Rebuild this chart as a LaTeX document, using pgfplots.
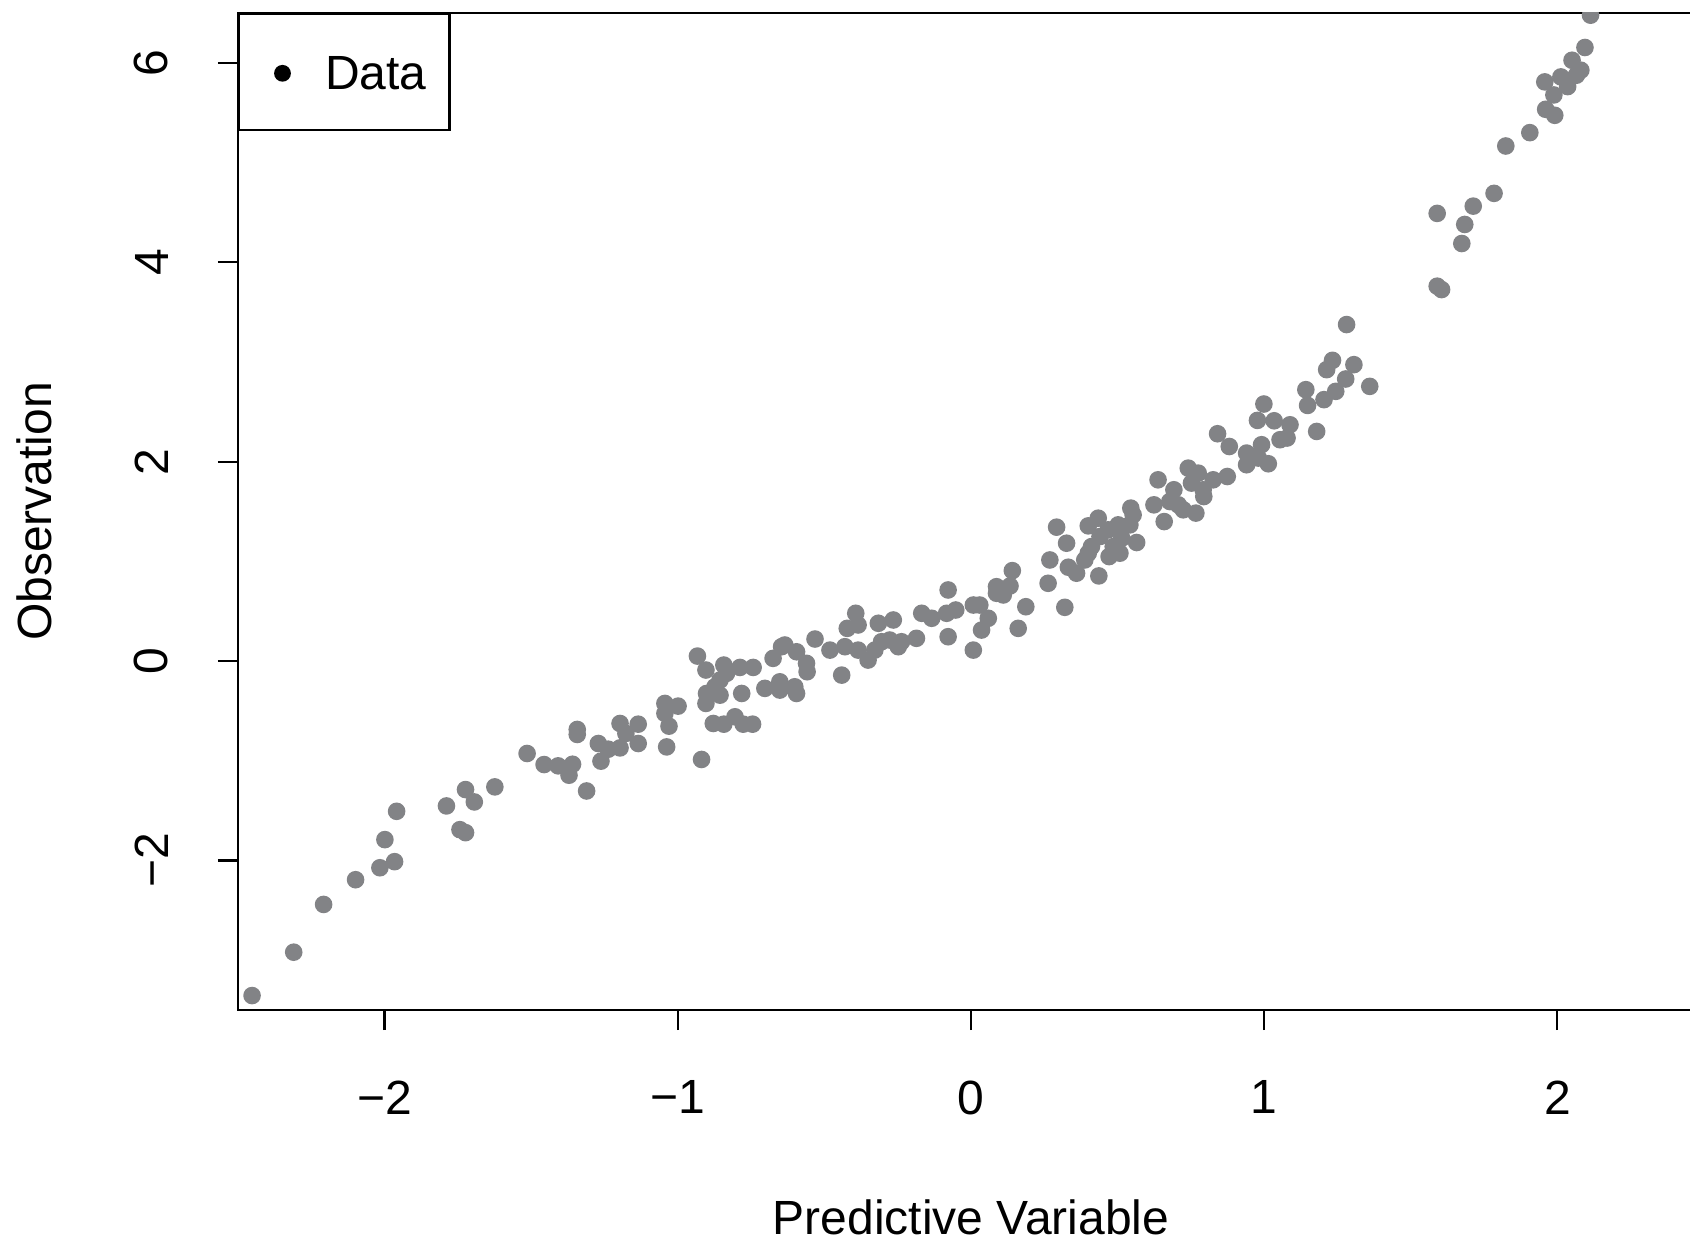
\documentclass[border=0pt]{standalone}
\usepackage{fontspec}
\setmainfont{Liberation Sans}
\usepackage{pgfplots}
\pgfplotsset{compat=1.18}
\definecolor{dotgray}{RGB}{130,131,134}
\newcommand{\rfont}{\fontsize{12}{14}\selectfont}

\begin{document}
\begin{tikzpicture}
\begin{axis}[
scale only axis,
width=366.5pt, height=249.25pt,
xmin=-2.5, xmax=2.5, ymin=-3.5, ymax=6.5,
xtick={-2,-1,0,1,2}, xticklabels={−2,−1,0,1,2},
ytick={-2,0,2,4,6}, yticklabels={−2,0,2,4,6},
tick pos=left, tick align=outside,
major tick length=5pt,
every tick/.style={black, line width=0.55pt},
axis line style={line width=0.55pt},
tick label style={font=\rfont, inner sep=0pt},
xticklabel style={anchor=north},
yticklabel style={rotate=90, anchor=south},
xticklabel shift=12.5pt,
yticklabel shift=12.25pt,
xlabel={Predictive Variable}, ylabel={Observation},
every axis x label/.style={at={([yshift=-56.2pt]axis description cs:0.5,0)}, anchor=base, font=\rfont, inner sep=0pt},
every axis y label/.style={at={([xshift=-46.6pt]axis description cs:0,0.5)}, rotate=90, anchor=base, font=\rfont, inner sep=0pt},
clip marker paths=true,
legend cell align=left,
legend style={at={(0,1)}, anchor=north west, draw=black, line width=0.55pt,
  inner xsep=0pt, inner ysep=0pt, column sep=0pt, font=\rfont,
  nodes={draw=none, inner sep=0pt, text depth=0pt, text width=31.1pt}},
]
\coordinate (bl) at (rel axis cs:0,0);
\addplot[only marks, mark=*, mark size=2pt, color=dotgray, forget plot] table {
-2.452 -3.355
-2.310 -2.920
-2.208 -2.441
-2.099 -2.193
-2.016 -2.073
-1.966 -2.012
-1.999 -1.791
-1.959 -1.507
-1.789 -1.453
-1.724 -1.289
-1.694 -1.413
-1.743 -1.691
-1.724 -1.721
-1.624 -1.262
-1.514 -0.927
-1.456 -1.038
-1.408 -1.051
-1.359 -1.035
-1.371 -1.145
-1.311 -1.303
-1.343 -0.686
-1.343 -0.736
-1.271 -0.827
-1.262 -1.004
-1.237 -0.884
-1.197 -0.871
-1.197 -0.626
-1.177 -0.726
-1.135 -0.633
-1.135 -0.827
-1.038 -0.861
-1.044 -0.425
-1.044 -0.525
-0.999 -0.452
-1.030 -0.653
-0.933 0.050
-0.919 -0.987
-0.904 -0.090
-0.902 -0.325
-0.904 -0.425
-0.879 -0.626
-0.873 -0.258
-0.856 -0.191
-0.843 -0.040
-0.856 -0.342
-0.834 -0.124
-0.843 -0.633
-0.805 -0.559
-0.788 -0.064
-0.782 -0.325
-0.777 -0.633
-0.745 -0.633
-0.743 -0.064
-0.703 -0.274
-0.675 0.027
-0.646 0.144
-0.635 0.161
-0.652 -0.208
-0.652 -0.291
-0.595 0.093
-0.601 -0.258
-0.595 -0.325
-0.561 -0.023
-0.559 -0.107
-0.532 0.221
-0.481 0.110
-0.430 0.144
-0.441 -0.141
-0.422 0.328
-0.393 0.479
-0.385 0.362
-0.385 0.110
-0.351 0.010
-0.316 0.379
-0.328 0.110
-0.305 0.194
-0.277 0.211
-0.265 0.412
-0.248 0.144
-0.237 0.194
-0.186 0.228
-0.168 0.479
-0.134 0.429
-0.083 0.479
-0.078 0.244
-0.078 0.713
-0.052 0.512
0.008 0.562
0.030 0.562
0.008 0.110
0.036 0.311
0.059 0.429
0.087 0.746
0.087 0.680
0.110 0.663
0.133 0.753
0.141 0.907
0.187 0.545
0.161 0.328
0.263 0.780
0.269 1.014
0.320 0.539
0.292 1.343
0.326 1.182
0.332 0.941
0.360 0.881
0.388 1.014
0.400 1.082
0.411 1.148
0.400 1.356
0.434 1.433
0.436 0.854
0.440 1.249
0.468 1.316
0.471 1.048
0.485 1.148
0.502 1.366
0.508 1.082
0.514 1.232
0.542 1.366
0.545 1.534
0.553 1.466
0.565 1.189
0.638 1.818
0.624 1.567
0.659 1.399
0.678 1.600
0.692 1.718
0.707 1.567
0.724 1.517
0.741 1.935
0.752 1.785
0.775 1.885
0.767 1.484
0.792 1.718
0.794 1.650
0.826 1.818
0.874 1.851
0.940 1.969
0.963 2.052
1.014 1.979
0.841 2.280
0.881 2.152
0.940 2.086
0.991 2.170
0.980 2.036
0.977 2.414
0.999 2.578
1.034 2.410
1.054 2.220
1.078 2.237
1.088 2.370
1.179 2.303
1.142 2.722
1.148 2.564
1.204 2.622
1.213 2.923
1.233 3.016
1.244 2.705
1.278 2.829
1.306 2.973
1.281 3.375
1.360 2.755
1.590 4.490
1.713 4.563
1.784 4.691
1.684 4.379
1.674 4.188
1.590 3.760
1.605 3.726
1.824 5.166
1.906 5.300
1.960 5.534
1.991 5.474
1.988 5.678
1.957 5.809
2.012 5.859
2.035 5.762
2.065 5.876
2.080 5.926
2.050 6.026
2.094 6.154
2.113 6.478
};
\addlegendimage{legend image code/.code={
  \path[draw=none] (0pt,-14.2pt) rectangle (21.5pt,14.8pt);
  \fill[black, draw=none] (10.85pt,0pt) circle (2.1pt);}}
\addlegendentry{Data}
\end{axis}
\pgfresetboundingbox
\path[use as bounding box] ([shift={(-59.5pt,-56.5pt)}]bl) rectangle ([shift={(363pt,252.5pt)}]bl);
\end{tikzpicture}
\end{document}
